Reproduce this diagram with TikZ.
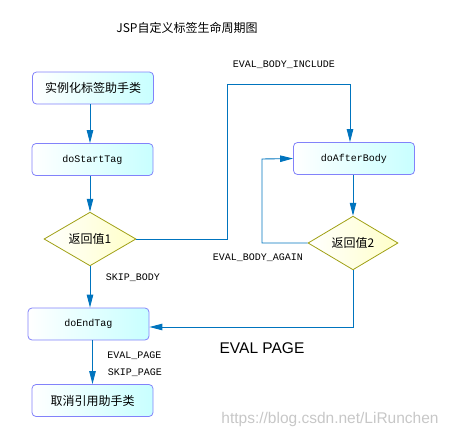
\documentclass[tikz,border=0pt]{standalone}
\usepackage{fontspec}
\setmonofont{Liberation Mono}
\newfontfamily\cjk{Noto Sans CJK SC}
\newfontfamily\lsans{Liberation Sans}
\usetikzlibrary{shapes.geometric,arrows.meta,positioning}

\definecolor{linkblue}{RGB}{0,116,190}
\definecolor{boxedge}{RGB}{130,130,250}
\definecolor{boxcyan}{RGB}{200,255,255}
\definecolor{diaedge}{RGB}{160,160,20}
\definecolor{diayellow}{RGB}{255,255,200}

\begin{document}
\begin{tikzpicture}[
    x=1pt, y=-1pt,
    block/.style={rectangle, draw=boxedge, thick, left color=white, right color=boxcyan, rounded corners=4pt, minimum width=121pt, minimum height=32pt, inner sep=0pt},
    decision/.style={diamond, draw=diaedge, thick, left color=white, right color=diayellow, inner sep=0pt, font=\cjk\fontsize{12}{14}\selectfont},
    arrow/.style={draw=linkblue, line width=0.9pt, -{Triangle[length=13pt,width=6.5pt]}},
    label/.style={font=\ttfamily\fontsize{10}{12}\selectfont}
]
\useasboundingbox (0,0) rectangle (450,437);

% Title
\node [font=\cjk\fontsize{12}{14}\selectfont] (title) at (187,28) {JSP自定义标签生命周期图};

% Define nodes of the left column
\node [block, font=\cjk\fontsize{12}{14}\selectfont] (inst) at (93,88) {实例化标签助手类};
\node [block, font=\ttfamily\fontsize{10}{12}\selectfont] (start) at (92.5,159.5) {doStartTag};
\node [decision, minimum width=92pt, minimum height=48pt] (ret1) at (90,239) {返回值1};
\node [block, font=\ttfamily\fontsize{10}{12}\selectfont] (endtag) at (88.5,324) {doEndTag};
\node [block, font=\cjk\fontsize{12}{14}\selectfont] (release) at (92.5,400.5) {取消引用助手类};

% Define nodes of the right column
\node [block, font=\ttfamily\fontsize{10}{12}\selectfont] (after) at (354,158.5) {doAfterBody};
\node [decision, minimum width=90pt, minimum height=43pt] (ret2) at (353,243) {返回值2};

% Bend points
\coordinate (incl) at (227,84);
\coordinate (again) at (262,159);

% Draw arrows
\draw [arrow] (inst.south -| ret1) -- (start.north -| ret1);
\draw [arrow] (start.south -| ret1) -- (ret1.north);
\draw [arrow] (ret1.south) -- (endtag.north -| ret1);
\draw [arrow] (endtag.south -| release.north) -- (release.north);
\draw [arrow] (ret1.east) -| (incl) -| ([xshift=-4pt]after.north);
\draw [arrow] (after.south -| ret2) -- (ret2.north);
\draw [arrow] (ret2.west) -| (again) -- (after.west);
\draw [arrow] (ret2.south) |- ([yshift=-3pt]endtag.east);

% Add labels on connectors
\node [label] (lincl) at (284,65) {EVAL\_BODY\_INCLUDE};
\node [label] (lagain) at (258,258) {EVAL\_BODY\_AGAIN};
\node [label] (lskip) at (133,278) {SKIP\_BODY};
\node [label] (leval) at (134.5,356) {EVAL\_PAGE};
\node [label] (lskippage) at (135,373) {SKIP\_PAGE};
\node [font=\lsans\fontsize{15.5}{18}\selectfont] (evalpage) at (262,348) {EVAL PAGE};

% Watermark
\node [font=\lsans\fontsize{15.5}{18}\selectfont, text=black!22] (mark) at (330,419) {https://blog.csdn.net/LiRunchen};

\end{tikzpicture}
\end{document}
